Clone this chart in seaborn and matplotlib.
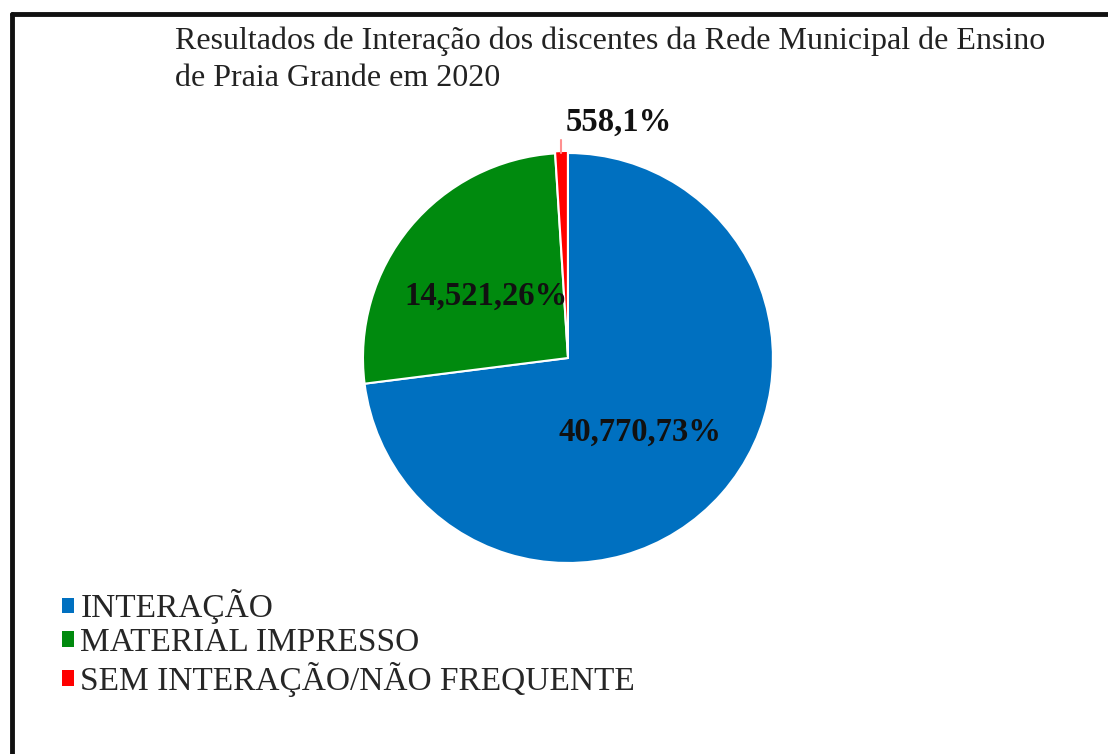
import matplotlib
matplotlib.use("Agg")
import matplotlib.pyplot as plt
from matplotlib.lines import Line2D
from matplotlib.patches import Patch
import seaborn as sns

# =====================================================
# DATA
# =====================================================

categorias = [
    "INTERAÇÃO",
    "MATERIAL IMPRESSO",
    "SEM INTERAÇÃO/NÃO FREQUENTE"
]
alunos = [40770, 14521, 558]
cores = ["#0070C0", "#008A0E", "#FF0000"]

titulo = (
    "Resultados de Interação dos discentes da Rede Municipal de Ensino\n"
    "de Praia Grande em 2020"
)

# =====================================================
# STYLE
# =====================================================

sns.set_theme(style="white")
plt.rcParams["font.family"] = ["Liberation Serif", "DejaVu Serif"]

fig = plt.figure(figsize=(11.08, 7.54), dpi=100)
fig.patch.set_facecolor("white")

# =====================================================
# PIE
# =====================================================

ax = fig.add_axes([0.3276, 0.2533, 0.370, 0.5438])

ax.pie(
    alunos,
    colors=cores,
    startangle=90,
    counterclock=False,
    explode=[0, 0, 0.01],
    wedgeprops=dict(edgecolor="white", linewidth=1.5)
)
ax.set_xlim(-1, 1)
ax.set_ylim(-1, 1)
ax.set_aspect("equal")
ax.axis("off")

total = sum(alunos)
rotulos = [
    f"{v:,},{round(v / total * 100)}%" for v in alunos
]
posicoes = [(0.35, -0.36), (-0.40, 0.30), (0.25, 1.15)]

for txt, (x, y) in zip(rotulos, posicoes):
    ax.text(
        x, y, txt,
        ha="center", va="center",
        fontsize=23.5, fontweight="bold",
        color="#111111", clip_on=False
    )

# thin leader above the small slice
ax.plot([-0.035, -0.035], [1.0, 1.065], color="#FF9090", lw=1.5, clip_on=False)

# =====================================================
# TITLE
# =====================================================

fig.text(
    0.158, 0.965, titulo,
    ha="left", va="top",
    fontsize=23, color="#222222",
    linespacing=1.38
)

# =====================================================
# LEGEND
# =====================================================

handles = [Patch(facecolor=c, edgecolor="none") for c in cores]

fig.legend(
    handles,
    categorias,
    loc="upper left",
    bbox_to_anchor=(0.044, 0.236),
    frameon=False,
    fontsize=24,
    handlelength=0.35,
    handleheight=0.35,
    handletextpad=0.2,
    labelspacing=0.1,
    borderaxespad=0
)

# =====================================================
# BORDER
# =====================================================

fig.add_artist(Line2D([0.011, 0.011], [0.0, 0.982], color="#111111", lw=3.5))
fig.add_artist(Line2D([0.011, 1.0], [0.982, 0.982], color="#111111", lw=3.5))

plt.savefig("out.png", dpi=100, facecolor="white")
